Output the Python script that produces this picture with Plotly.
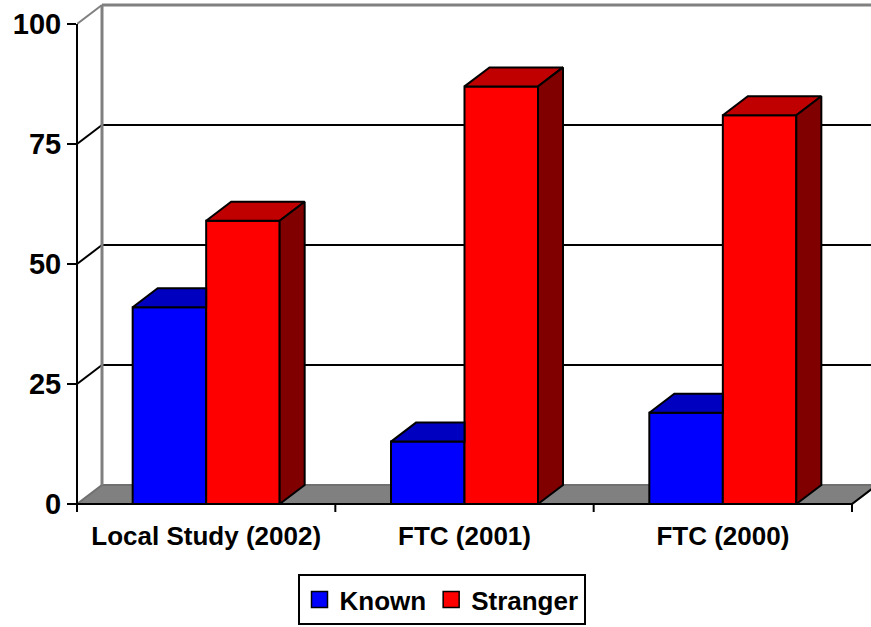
import plotly.graph_objects as go

# ---- data -------------------------------------------------------------
categories = ["Local Study (2002)", "FTC (2001)", "FTC (2000)"]
known = [41, 13, 19]
stranger = [59, 87, 81]
y_ticks = [0, 25, 50, 75, 100]

# ---- geometry of the pseudo-3D box (axis units) ------------------------
W, H = 871, 627
M_L, M_R, M_T, M_B = 77, 0, 0, 115
plot_w, plot_h = W - M_L - M_R, H - M_T - M_B
px_per_x = 775 / 3          # one category slot
px_per_y = 4.8              # one value unit
x0_rng = -0.5
x1_rng = x0_rng + plot_w / px_per_x
y1_rng = 105
y0_rng = y1_rng - plot_h / px_per_y

dx = 25 / px_per_x          # depth offset, horizontal
dy = 19 / px_per_y          # depth offset, vertical
bw = 73.5 / px_per_x        # bar width
left, right = -0.5, len(categories) - 0.5

BLUE, BLUE_TOP = "#0000FF", "#0000C0"
RED, RED_TOP, RED_SIDE = "#FF0000", "#C00000", "#800000"
GRAY = "#808080"
FONT = dict(family="Liberation Sans, Arial, sans-serif", color="black", weight="bold")

fig = go.Figure()

# front faces
fig.add_trace(go.Bar(x=list(range(len(categories))), y=known, width=bw, offset=-bw,
                     name="Known", marker=dict(color=BLUE, line=dict(color="black", width=2)),
                     showlegend=False, hoverinfo="skip"))
fig.add_trace(go.Bar(x=list(range(len(categories))), y=stranger, width=bw, offset=0,
                     name="Stranger", marker=dict(color=RED, line=dict(color="black", width=2)),
                     showlegend=False, hoverinfo="skip"))


def face(xs, ys, color):
    fig.add_trace(go.Scatter(x=xs, y=ys, mode="lines", fill="toself", fillcolor=color,
                             line=dict(color="black", width=2), showlegend=False,
                             hoverinfo="skip"))


for i, (k, s) in enumerate(zip(known, stranger)):
    # Known: top face, cut where the Stranger column stands in front of it
    bx0, bx1 = i - bw, i
    face([bx0, bx1, bx1, bx0 + dx, bx0], [k, k, k + dy, k + dy, k], BLUE_TOP)
    # Stranger: top and side faces
    rx0, rx1 = i, i + bw
    face([rx0, rx1, rx1 + dx, rx0 + dx, rx0], [s, s, s + dy, s + dy, s], RED_TOP)
    face([rx1, rx1 + dx, rx1 + dx, rx1, rx1], [0, dy, s + dy, s, 0], RED_SIDE)

# legend keys (larger squares than the default bar swatch)
for name, color in (("Known", BLUE), ("Stranger", RED)):
    fig.add_trace(go.Scatter(x=[None], y=[None], mode="markers", name=name,
                             marker=dict(symbol="square", size=16, color=color,
                                         line=dict(color="black", width=1.5))))

shapes = []
# floor
shapes.append(dict(type="path", layer="below", xref="x", yref="y",
                   path=f"M{left},0 L{right},0 L{right+dx},{dy} L{left+dx},{dy} Z",
                   fillcolor=GRAY, line=dict(color="#707070", width=2)))
shapes.append(dict(type="line", layer="below", xref="x", yref="y",
                   x0=right, y0=0, x1=right + dx, y1=dy, line=dict(color="black", width=2)))
shapes.append(dict(type="line", layer="below", xref="x", yref="y",
                   x0=left, y0=0, x1=right, y1=0, line=dict(color="black", width=2)))
# back-wall gridlines and their links to the value axis
for v in y_ticks[1:-1]:
    shapes.append(dict(type="line", layer="below", xref="x", yref="y",
                       x0=left + dx, y0=v + dy, x1=x1_rng + 1, y1=v + dy,
                       line=dict(color="black", width=2)))
    shapes.append(dict(type="line", layer="below", xref="x", yref="y",
                       x0=left, y0=v, x1=left + dx, y1=v + dy,
                       line=dict(color="black", width=2)))
top = y_ticks[-1]
shapes.append(dict(type="line", layer="below", xref="x", yref="y",
                   x0=left, y0=top, x1=left + dx, y1=top + dy, line=dict(color=GRAY, width=2)))
shapes.append(dict(type="line", layer="below", xref="x", yref="y",
                   x0=left + dx, y0=dy, x1=left + dx, y1=top + dy, line=dict(color=GRAY, width=3)))
shapes.append(dict(type="line", layer="below", xref="x", yref="y",
                   x0=left + dx, y0=top + dy, x1=x1_rng + 1, y1=top + dy,
                   line=dict(color=GRAY, width=3)))
# category separators below the floor edge
for b in range(len(categories) + 1):
    shapes.append(dict(type="line", layer="below", xref="x", yref="y",
                       x0=left + b, y0=0, x1=left + b, y1=y0_rng,
                       line=dict(color="black", width=2)))


# value-axis line, from the lower range end up to the top tick
def py(v):
    return (v - y0_rng) / (y1_rng - y0_rng)


shapes.append(dict(type="line", xref="paper", yref="paper",
                   x0=0, x1=0, y0=py(y0_rng), y1=py(top),
                   line=dict(color="black", width=2)))

fig.update_layout(
    width=W, height=H,
    margin=dict(l=M_L, r=M_R, t=M_T, b=M_B),
    paper_bgcolor="white", plot_bgcolor="white",
    barmode="overlay",
    shapes=shapes,
    showlegend=True,
    legend=dict(orientation="h", x=(441.5 - M_L) / plot_w, xanchor="center",
                y=-(625 - plot_h) / plot_h, yanchor="bottom",
                bordercolor="black", borderwidth=2, bgcolor="white",
                font=dict(size=26, **FONT), traceorder="normal",
                itemwidth=30, tracegroupgap=0),
    xaxis=dict(range=[x0_rng, x1_rng], tickvals=list(range(len(categories))),
               ticktext=categories, ticks="", showgrid=False, zeroline=False,
               showline=False, tickfont=dict(size=26, **FONT), ticklabelstandoff=6),
    yaxis=dict(range=[y0_rng, y1_rng], tickvals=y_ticks, ticks="outside", ticklen=9,
               tickwidth=2, tickcolor="black", showgrid=False, zeroline=False,
               showline=False, tickfont=dict(size=29, **FONT)),
)

fig.write_html("out.html")
